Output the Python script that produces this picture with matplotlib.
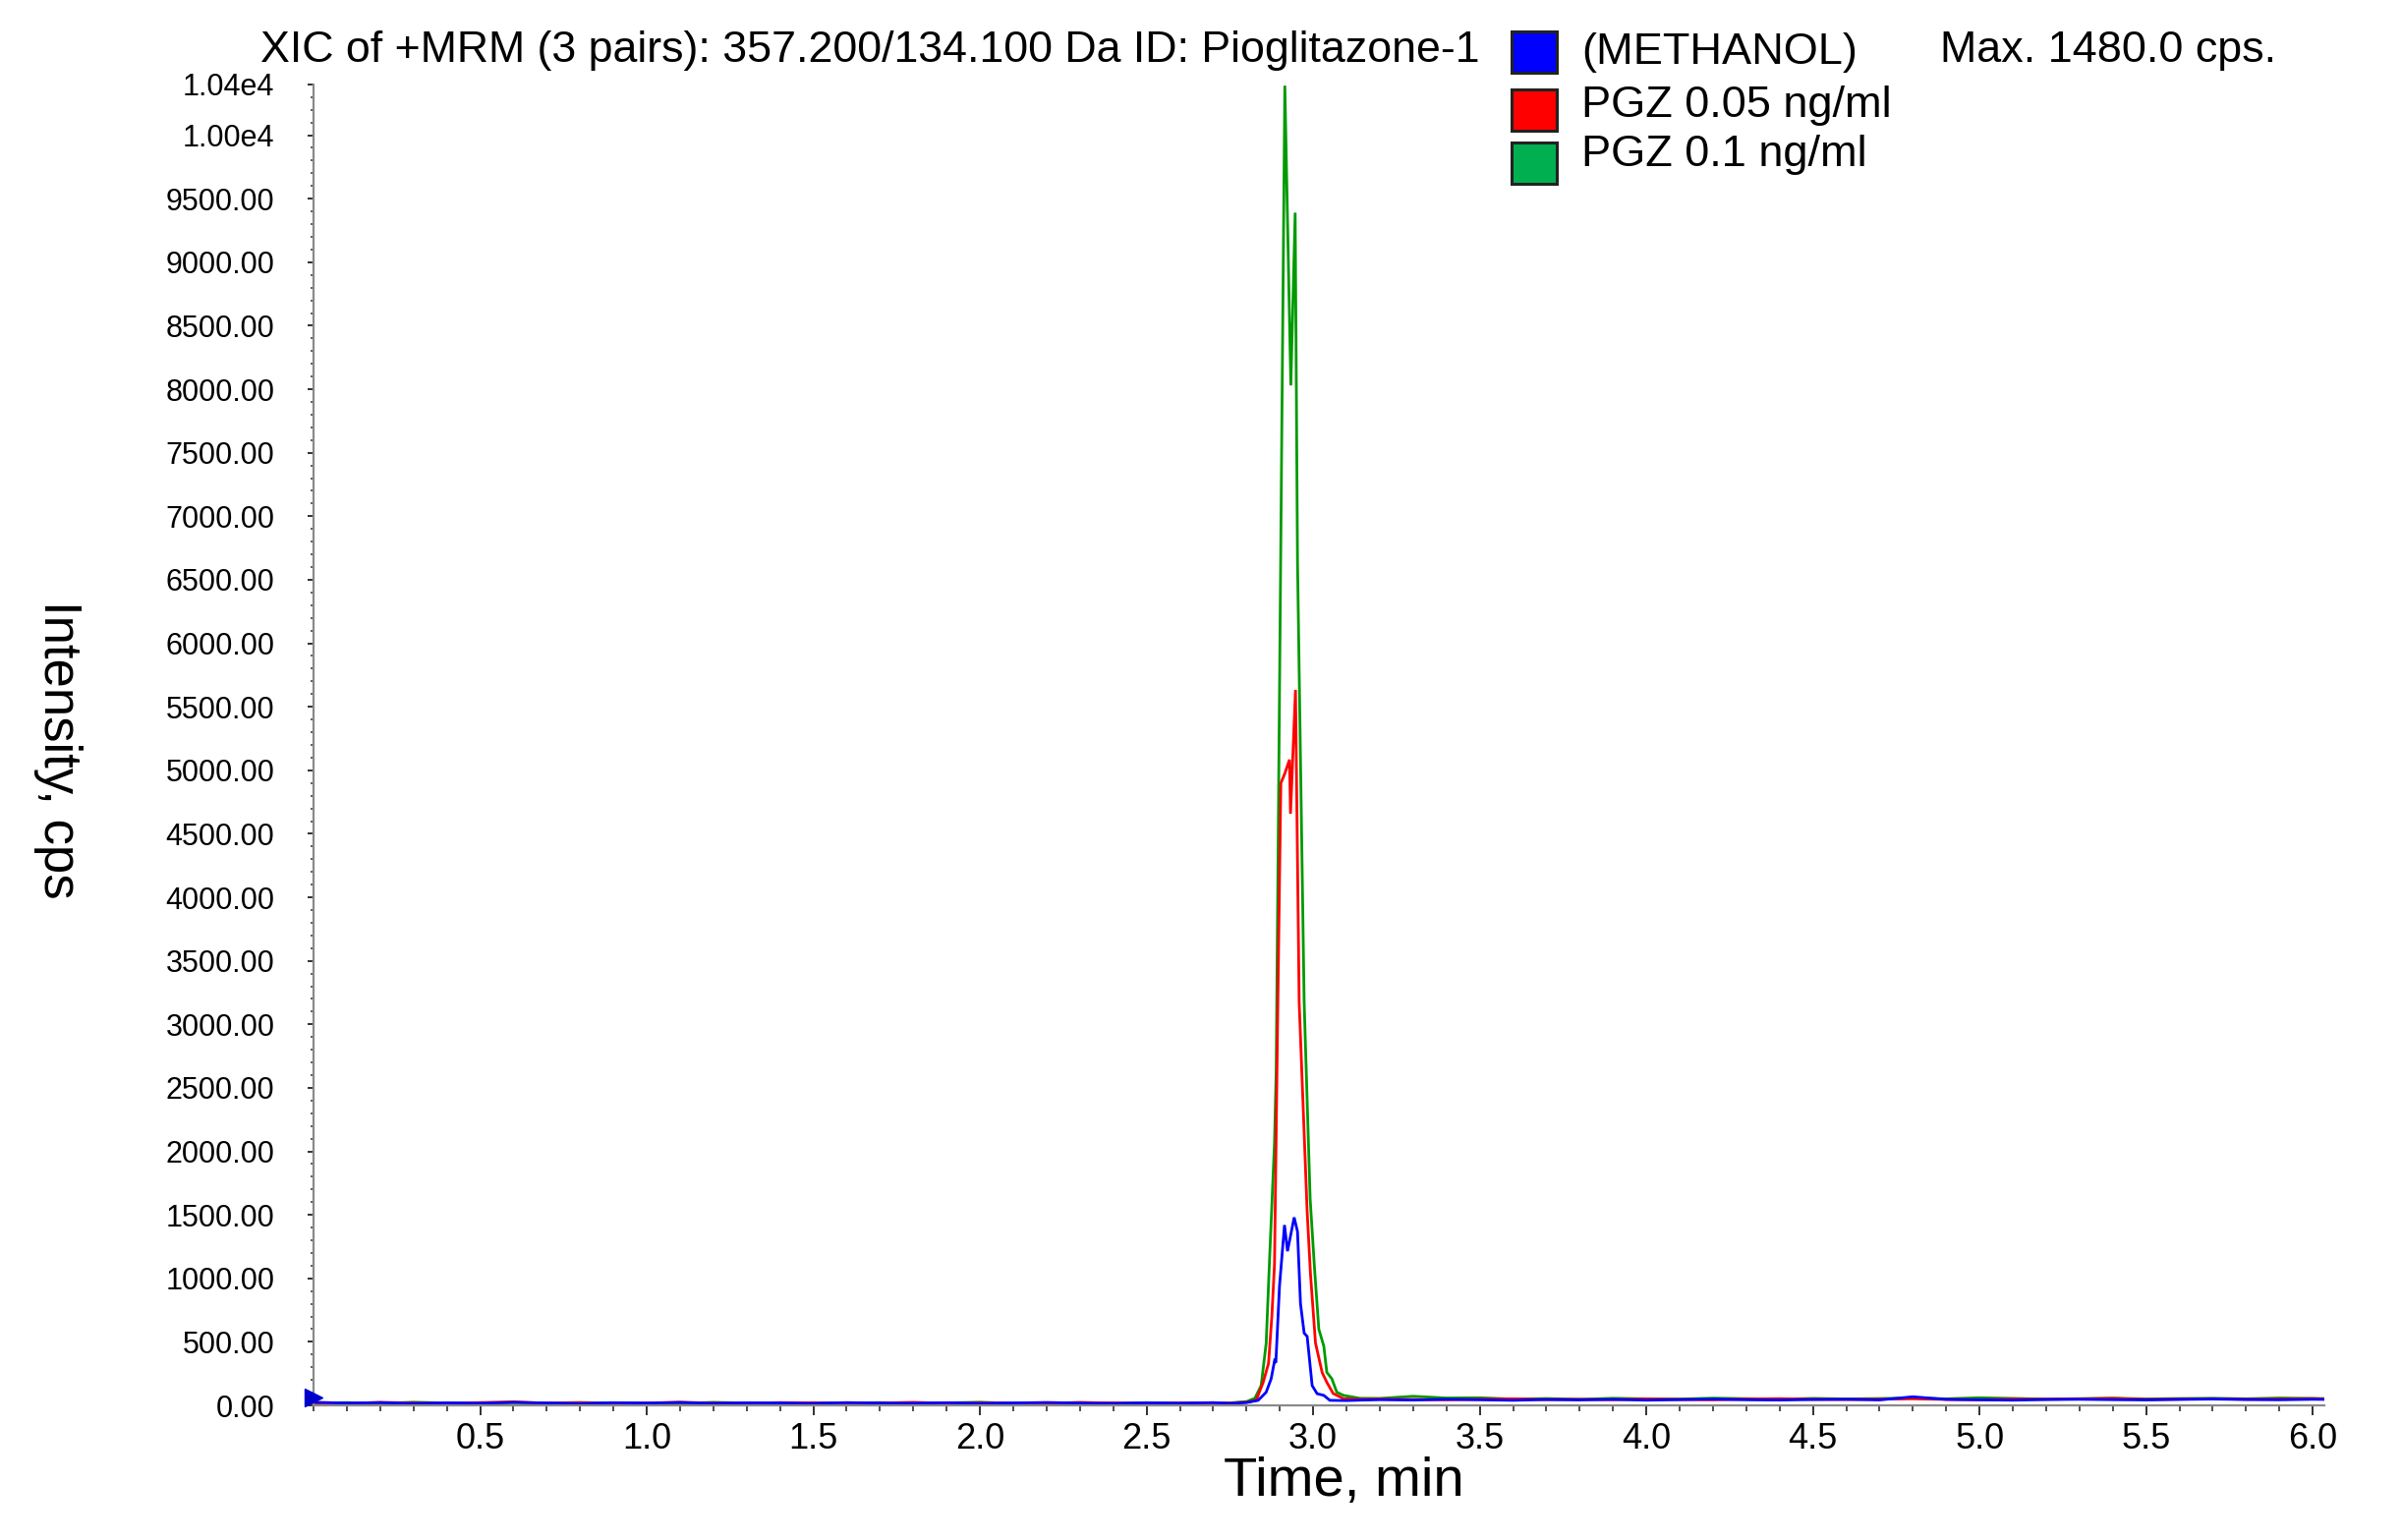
import matplotlib
matplotlib.use('Agg')
import matplotlib.pyplot as plt
from matplotlib.patches import Rectangle
from matplotlib.ticker import FixedLocator, MultipleLocator

plt.rcParams['font.family'] = ['Liberation Sans', 'DejaVu Sans']

# retention time grid for the flat parts (min)
pre_t = [0.00, 0.10, 0.20, 0.30, 0.40, 0.50, 0.60, 0.70, 0.80, 0.90,
         1.00, 1.10, 1.20, 1.30, 1.40, 1.50, 1.60, 1.70, 1.80, 1.90,
         2.00, 2.10, 2.20, 2.30, 2.40, 2.50, 2.60, 2.70]
post_t = [3.20, 3.30, 3.40, 3.50, 3.60, 3.70, 3.80, 3.90, 4.00, 4.10,
          4.20, 4.30, 4.40, 4.50, 4.60, 4.70, 4.80, 4.90, 5.00, 5.10,
          5.20, 5.30, 5.40, 5.50, 5.60, 5.70, 5.80, 5.90, 6.00, 6.04]

# METHANOL (blue)
blue_pre = [25, 18, 22, 15, 20, 17, 24, 19, 14, 21, 18, 23, 16, 20,
            19, 15, 22, 18, 17, 21, 16, 19, 23, 18, 15, 20, 17, 22]
blue_peak_t = [2.75, 2.80, 2.835, 2.859, 2.874, 2.884, 2.888, 2.899, 2.914,
               2.923, 2.943, 2.953, 2.962, 2.973, 2.982, 2.997, 3.012,
               3.032, 3.050, 3.10, 3.15]
blue_peak = [15, 22, 40, 104, 210, 350, 336, 940, 1420,
             1214, 1480, 1369, 801, 569, 543, 156, 92,
             79, 40, 38, 42]
blue_post = [45, 42, 48, 44, 40, 46, 43, 47, 41, 45, 49, 44, 42, 46, 48,
             43, 68, 47, 44, 41, 46, 48, 45, 43, 47, 50, 46, 44, 48, 47]

# PGZ 0.05 ng/ml (red)
red_pre = [20, 15, 24, 19, 16, 22, 28, 17, 21, 14, 19, 25, 18, 16,
           22, 20, 15, 19, 24, 17, 21, 18, 16, 23, 19, 15, 20, 18]
red_peak_t = [2.75, 2.80, 2.829, 2.850, 2.866, 2.876, 2.884, 2.894, 2.903,
              2.915, 2.929, 2.932, 2.947, 2.958, 2.982, 2.992, 3.007,
              3.027, 3.041, 3.060, 3.091, 3.14]
red_peak = [18, 25, 40, 182, 330, 700, 1111, 3175, 4898,
            4975, 5084, 4658, 5633, 3175, 1524, 1033, 491,
            259, 182, 94, 53, 48]
red_post = [50, 47, 44, 49, 52, 46, 48, 45, 51, 47, 44, 50, 53, 48, 46,
            49, 52, 47, 45, 50, 48, 51, 55, 47, 49, 52, 48, 50, 53, 51]

# PGZ 0.1 ng/ml (green)
green_pre = [18, 22, 16, 25, 19, 15, 21, 18, 23, 17, 20, 16, 24, 19,
             15, 21, 18, 22, 17, 20, 25, 16, 19, 22, 18, 21, 17, 20]
green_peak_t = [2.75, 2.80, 2.825, 2.844, 2.859, 2.869, 2.884, 2.889, 2.915,
                2.933, 2.946, 2.953, 2.973, 2.991, 3.004, 3.017, 3.032,
                3.041, 3.056, 3.071, 3.091, 3.14]
green_peak = [20, 30, 56, 157, 490, 1140, 2070, 2630, 10390,
              8030, 9390, 6650, 3175, 1625, 1083, 600, 466,
              260, 210, 104, 79, 56]
green_post = [55, 72, 58, 60, 50, 54, 48, 56, 52, 50, 57, 53, 49, 55, 51,
              54, 58, 52, 60, 55, 50, 53, 57, 51, 54, 56, 52, 58, 55, 53]

series_names = ['(METHANOL)', 'PGZ 0.05 ng/ml', 'PGZ 0.1 ng/ml']
line_colors = ['#0000FF', '#FF0000', '#009A00']
box_colors = ['#0000FF', '#FF0000', '#00B050']

y_ticks = [0, 500, 1000, 1500, 2000, 2500, 3000, 3500, 4000, 4500, 5000,
           5500, 6000, 6500, 7000, 7500, 8000, 8500, 9000, 9500, 10000, 10400]
y_labels = ['%.2f' % v for v in y_ticks[:-2]] + ['1.00e4', '1.04e4']
x_ticks = [0.5, 1.0, 1.5, 2.0, 2.5, 3.0, 3.5, 4.0, 4.5, 5.0, 5.5, 6.0]
x_labels = ['%.1f' % v for v in x_ticks]

marker_t = 0.0
marker_v = 60


def main():
    fig = plt.figure(figsize=(24.43, 15.67), dpi=100)
    ax = fig.add_axes([0.1306, 0.0874, 0.8375, 0.8578])

    # green under red under blue
    curves = [
        (green_pre, green_peak_t, green_peak, green_post, line_colors[2]),
        (red_pre, red_peak_t, red_peak, red_post, line_colors[1]),
        (blue_pre, blue_peak_t, blue_peak, blue_post, line_colors[0]),
    ]
    for pre, pk_t, pk, post, c in curves:
        t = pre_t + pk_t + post_t
        v = pre + pk + post
        ax.plot(t, v, color=c, lw=2.0, solid_joinstyle='miter')

    ax.plot([marker_t], [marker_v], marker='>', color='#0000CC', ms=13,
            clip_on=False, zorder=5)

    ax.set_xlim(0, 6.035)
    ax.set_ylim(0, 10400)

    ax.yaxis.set_major_locator(FixedLocator(y_ticks))
    ax.set_yticklabels(y_labels)
    ax.yaxis.set_minor_locator(MultipleLocator(100))
    ax.xaxis.set_major_locator(FixedLocator(x_ticks))
    ax.set_xticklabels(x_labels)
    ax.xaxis.set_minor_locator(MultipleLocator(0.1))

    ax.tick_params(axis='y', which='major', length=4.5, width=1.3, pad=24,
                   labelsize=22, colors='#222222', labelcolor='black')
    ax.tick_params(axis='y', which='minor', length=2.5, width=1.2,
                   colors='#444444')
    ax.tick_params(axis='x', which='major', length=7, width=1.3, pad=5,
                   labelsize=26, colors='#222222', labelcolor='black')
    ax.tick_params(axis='x', which='minor', length=4.5, width=1.2,
                   colors='#333333')

    for s in ['top', 'right']:
        ax.spines[s].set_visible(False)
    for s in ['left', 'bottom']:
        ax.spines[s].set_color('#8a8a8a')
        ax.spines[s].set_linewidth(1.6)

    W, H = 2443.0, 1567.0
    fig.text(265 / W, 1 - 52 / H,
             'XIC of +MRM (3 pairs): 357.200/134.100 Da ID: Pioglitazone-1',
             fontsize=32.2, ha='left', va='center')
    fig.text(1974 / W, 1 - 52 / H, 'Max. 1480.0 cps.',
             fontsize=32.3, ha='left', va='center')

    box_tops = [32, 91, 145]
    text_y = [53, 108, 158]
    for name, bc, top, ty in zip(series_names, box_colors, box_tops, text_y):
        fig.add_artist(Rectangle((1538 / W, 1 - (top + 42) / H), 46 / W, 42 / H,
                                 facecolor=bc, edgecolor='#222222', lw=2.2,
                                 transform=fig.transFigure))
        fig.text(1609 / W, 1 - ty / H, name, fontsize=32.5, ha='left', va='center')

    fig.text(1367 / W, 1 - 1508 / H, 'Time, min', fontsize=40.5,
             ha='center', va='center')
    fig.text(59 / W, 1 - 763 / H, 'Intensity, cps', fontsize=38,
             ha='center', va='center', rotation=-90)

    fig.savefig('out.png', dpi=100)


if __name__ == '__main__':
    main()
